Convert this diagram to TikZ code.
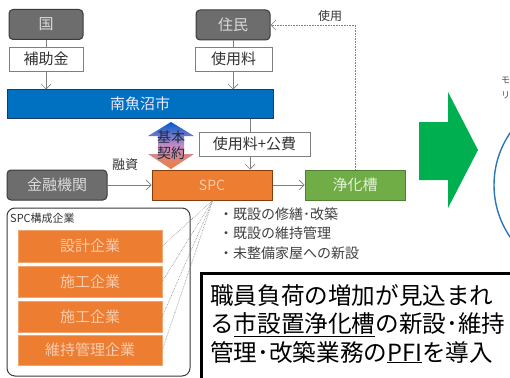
\documentclass[tikz,border=0pt]{standalone}
\usepackage{fontspec}
\newfontfamily\jp{Noto Sans CJK JP}
\usetikzlibrary{arrows.meta}
\definecolor{dgray}{HTML}{6D6D6D}
\definecolor{dgrayb}{HTML}{3A3A3A}
\definecolor{lgtxt}{HTML}{D9D9D9}
\definecolor{cblue}{HTML}{0070C0}
\definecolor{cblueb}{HTML}{1F3864}
\definecolor{corange}{HTML}{ED7D31}
\definecolor{corangeb}{HTML}{843C0C}
\definecolor{otxt}{HTML}{F8CBAD}
\definecolor{cgreen}{HTML}{70AD47}
\definecolor{cgreenb}{HTML}{507E32}
\definecolor{gtxt}{HTML}{E2F0D9}
\definecolor{arrowgreen}{HTML}{00B050}
\definecolor{circblue}{HTML}{2E75B6}
\definecolor{lineg}{HTML}{7F7F7F}
\definecolor{ctrtxt}{HTML}{1F2A44}
\tikzset{
  base/.style={font=\jp, inner sep=0pt, align=center},
  graybox/.style={base, rounded corners=4pt, fill=dgray, draw=dgrayb, line width=1pt, text=lgtxt, font=\jp\fontsize{15}{18}\selectfont},
  whitebox/.style={base, fill=white, draw=lineg, line width=0.8pt, text=black!80, font=\jp\fontsize{15}{18}\selectfont},
  bluebar/.style={base, fill=cblue, draw=cblueb, line width=1pt, text=blue!8, font=\jp\fontsize{15}{18}\selectfont},
  spcbox/.style={base, fill=corange, draw=corangeb, line width=1pt, text=otxt, font=\jp\fontsize{14}{17}\selectfont},
  orbox/.style={base, fill=corange, draw=corange!70, line width=0.6pt, text=otxt, font=\jp\fontsize{15}{18}\selectfont, minimum width=144pt},
  greenbox/.style={base, fill=cgreen, draw=cgreenb, line width=1pt, text=gtxt, font=\jp\fontsize{15}{18}\selectfont},
  conn/.style={draw=lineg, line width=0.7pt},
  arr/.style={conn, -{Straight Barb[length=5pt,width=10pt]}},
  dots/.style={draw=lineg, line width=0.6pt, densely dotted},
  lbl/.style={base, text=black!80, font=\jp\fontsize{13}{16}\selectfont},
}
\begin{document}
\begin{tikzpicture}[x=1pt,y=-1pt]
\useasboundingbox (0,0) rectangle (510,377);
\clip (0,0) rectangle (510,377);
\fill[white] (0,0) rectangle (510,377);

% top boxes
\node[graybox, minimum width=74pt, minimum height=30pt] (kuni) at (46,24.5) {国};
\node[whitebox, minimum width=74pt, minimum height=24pt] (hojo) at (46,59) {補助金};
\node[graybox, minimum width=74pt, minimum height=30pt] (jumin) at (233,25) {住民};
\node[whitebox, minimum width=77pt, minimum height=24pt] (shiyo) at (233.5,59) {使用料};
\node[bluebar, minimum width=266pt, minimum height=28pt] (city) at (140,104) {南魚沼市};

\draw[conn] (kuni.south) -- (hojo.north);
\draw[arr] (hojo.south) -- (city.north -| hojo.south);
\draw[conn] (jumin.south) -- (shiyo.north -| jumin.south);
\draw[arr] (shiyo.south -| jumin.south) -- (city.north -| jumin.south);

% fee box
\node[whitebox, minimum width=111pt, minimum height=24pt] (fee) at (254.5,144) {使用料+公費};
\coordinate (fx) at (250,0);

% contract double arrow
\shade[top color=blue!55!cyan!80!black, bottom color=corange, middle color=violet!45]
  (171,122) -- (194,136) -- (184,136) -- (184,154) -- (194,154) -- (171,169)
  -- (148,154) -- (158,154) -- (158,136) -- (148,136) -- cycle;
\node[base, text=ctrtxt, font=\jp\fontsize{14}{17}\selectfont] (kyk) at (171,145.5) {基本\\[-1pt]契約};

% middle row
\node[spcbox, minimum width=120pt, minimum height=30pt] (spc) at (212,185) {SPC};
\node[graybox, minimum width=100pt, minimum height=30pt] (kin) at (57,185) {金融機関};
\node[greenbox, minimum width=100pt, minimum height=30pt] (jo) at (355,185) {浄化槽};

\draw[conn] (fx |- city.south) -- (fx |- fee.north);
\draw[arr] (fx |- fee.south) -- (fx |- spc.north);
\draw[arr] (kin.east) -- (spc.west);
\node[lbl] (yushi) at (125,165) {融資};
\draw[arr] (spc.east) -- (jo.west);
\draw[dots, -{Straight Barb[length=5pt,width=10pt]}] (jo.north) |- (jumin.east);
\node[lbl, font=\jp\fontsize{12}{14}\selectfont] (shiyolbl) at (330,16) {使用};

% bullets
\node[base, anchor=north west, align=left, text=black!75, font=\jp\fontsize{14}{19.5}\selectfont] (bul) at (219,207)
  {・既設の修繕･改築\\・既設の維持管理\\・未整備家屋への新設};

% group
\draw[draw=dgrayb, line width=1pt, rounded corners=8pt, fill=white] (7,208) rectangle (190,376);
\node[base, anchor=west, text=black!80, font=\jp\fontsize{11}{13}\selectfont] (glbl) at (10,218) {SPC構成企業};
\node[orbox, minimum height=32pt] (d1) at (90,246) {設計企業};
\node[orbox, minimum height=31pt] (d2) at (90,281.5) {施工企業};
\node[orbox, minimum height=31pt] (d3) at (90,316.5) {施工企業};
\node[orbox, minimum height=30pt] (d4) at (90,350) {維持管理企業};
\coordinate (sb) at (213,200);
\draw[dots] (sb) -- (d1.east);
\draw[dots] (sb) -- (d2.east);
\draw[dots] (sb) -- (d3.east);
\draw[dots] (sb) -- (d4.east);

% big text box
\draw[black, line width=3pt, fill=white] (201,273) rectangle (530,400);
\node[base, anchor=north west, align=left, text=black, font=\jp\fontsize{23.6}{28.5}\selectfont] (big) at (210,284)
  {職員負荷の増加が見込まれ\\る\underline{市設置浄化槽}の新設･維持\\管理･改築業務の\underline{PFI}を導入};

% green arrow
\fill[arrowgreen] (419,122) -- (448,122) -- (448,92) -- (478,150) -- (448,208) -- (448,180) -- (419,180) -- cycle;

% right circle and cut text
\draw[circblue, line width=1.4pt] (586,185) circle (92);
\node[base, anchor=west, text=black!70, font=\jp\fontsize{9}{11}\selectfont] (rt1) at (501,80) {モ};
\node[base, anchor=west, text=black!70, font=\jp\fontsize{9}{11}\selectfont] (rt2) at (501,95) {リ};
\end{tikzpicture}
\end{document}
